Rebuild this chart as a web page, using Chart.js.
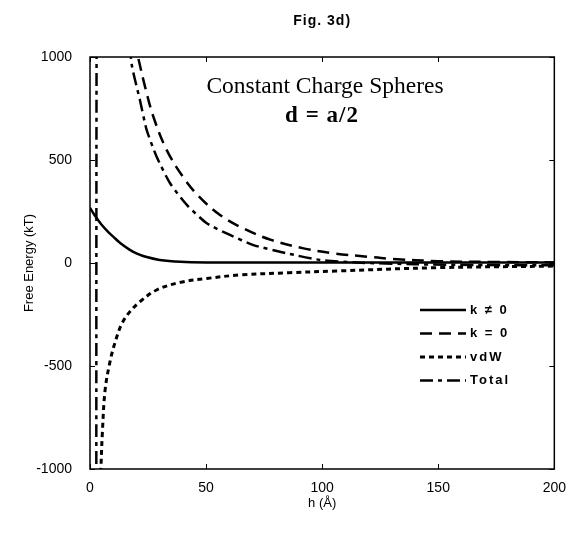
<!DOCTYPE html>
<html>
<head>
<meta charset="utf-8">
<script src="https://cdn.jsdelivr.net/npm/chart.js@4/dist/chart.umd.min.js"></script>
<style>
  html, body { margin: 0; padding: 0; background: #fff; }
  #wrap { width: 569px; height: 539px; position: relative; }
</style>
</head>
<body>
<div id="wrap"><canvas id="c" width="569" height="539"></canvas></div>
<script>
// ---- Data ----
const figTitle = "Fig. 3d)";
const noteLine1 = "Constant Charge Spheres";
const noteLine2 = "d = a/2";
const xTitle = "h (Å)";
const yTitle = "Free Energy (kT)";
const xTicks = [0, 50, 100, 150, 200];
const yTicks = [-1000, -500, 0, 500, 1000];
const seriesLabels = ["k \u2260 0", "k = 0", "vdW", "Total"];

// k != 0 (solid)
const hKscreen = [0, 2, 5, 8, 10, 13, 17, 20, 24, 30, 39, 50, 70, 100, 150, 200];
const eKscreen = [268, 232, 186, 149, 128, 97, 65, 47, 30, 15, 6, 3, 3, 3, 3, 3];

// k = 0 (dashed)
const hKzero = [19, 20.8, 23.7, 27.3, 33, 40, 47, 56, 66, 78, 92, 105, 120, 130, 150, 175, 200];
const eKzero = [1080, 994, 856, 710, 549, 419, 322, 233, 168, 112, 71, 47, 30, 20, 9, 5, 3];

// van der Waals (dotted)
const hVdw = [4.3, 4.7, 5.3, 6.5, 8.6, 10.8, 13.7, 17.2, 21.5, 28.7, 38.8, 50.3, 64.7, 86, 106, 148, 200];
const eVdw = [-1150, -1000, -830, -617, -480, -385, -295, -236, -188, -131, -94, -75, -58, -47, -39, -23, -15];

// Total (dash-dot)
const hTotal = [2.7, 2.95, 6, 12, 16.5, 18, 21.5, 24.4, 28.7, 34.5, 41.7, 50.3, 60.3, 70.4, 84.8, 99, 115, 140, 170, 200];
const eTotal = [-1500, 1500, 6000, 2500, 1150, 961, 791, 646, 516, 387, 282, 193, 136, 87, 47, 15, 2, -6, -10, -11];

const toPts = (hs, es) => hs.map((h, i) => ({ x: h, y: es[i] }));

// ---- Plugin for frame, inner ticks, title, note and legend ----
const decor = {
  id: 'decor',
  afterDatasetsDraw(chart) {
    const { ctx, chartArea: a, scales } = chart;
    const xs = scales.x, ys = scales.y;
    ctx.save();
    ctx.strokeStyle = '#000';
    ctx.lineWidth = 1.5;
    ctx.setLineDash([]);
    ctx.strokeRect(a.left, a.top, a.right - a.left, a.bottom - a.top);
    ctx.lineWidth = 1;
    const tl = 5;
    xTicks.forEach(v => {
      const px = Math.round(xs.getPixelForValue(v)) + 0.5;
      ctx.beginPath();
      ctx.moveTo(px, a.bottom); ctx.lineTo(px, a.bottom - tl);
      ctx.moveTo(px, a.top); ctx.lineTo(px, a.top + tl);
      ctx.stroke();
    });
    yTicks.forEach(v => {
      const py = Math.round(ys.getPixelForValue(v)) + 0.5;
      ctx.beginPath();
      ctx.moveTo(a.left, py); ctx.lineTo(a.left + tl, py);
      ctx.moveTo(a.right, py); ctx.lineTo(a.right - tl, py);
      ctx.stroke();
    });

    // figure title
    const cx = (a.left + a.right) / 2;
    ctx.fillStyle = '#000';
    ctx.textAlign = 'center';
    ctx.textBaseline = 'alphabetic';
    ctx.font = 'bold 14px "Liberation Sans", Arial, sans-serif';
    ctx.letterSpacing = '1px';
    ctx.fillText(figTitle, cx, 25);

    // note
    ctx.letterSpacing = '0px';
    ctx.font = '23.5px "Liberation Serif", "Times New Roman", serif';
    ctx.fillText(noteLine1, a.left + 235, a.top + 36);
    ctx.letterSpacing = '1px';
    ctx.font = 'bold 23px "Liberation Serif", "Times New Roman", serif';
    ctx.fillText(noteLine2, a.left + 232, a.top + 65);

    // legend
    ctx.textAlign = 'left';
    ctx.textBaseline = 'middle';
    ctx.font = 'bold 13px "Liberation Sans", Arial, sans-serif';
    ctx.letterSpacing = '2px';
    chart.data.datasets.forEach((ds, i) => {
      const y = a.top + 253 + i * 23.5;
      const x0 = a.left + 330, x1 = a.left + 376;
      ctx.save();
      ctx.lineWidth = ds.borderWidth;
      ctx.setLineDash(ds.borderDash || []);
      ctx.beginPath();
      ctx.moveTo(x0, y); ctx.lineTo(x1, y);
      ctx.stroke();
      ctx.restore();
      ctx.fillText(ds.label, x1 + 4, y);
    });
    ctx.restore();
  }
};

const common = { borderColor: '#000', backgroundColor: '#000', pointRadius: 0, fill: false,
  tension: 0.35, borderWidth: 2.5 };

const tickFont = { family: '"Liberation Sans", Arial, sans-serif', size: 14 };

new Chart(document.getElementById('c'), {
  type: 'line',
  data: {
    datasets: [
      Object.assign({ label: seriesLabels[0], data: toPts(hKscreen, eKscreen), borderDash: [] }, common),
      Object.assign({ label: seriesLabels[1], data: toPts(hKzero, eKzero), borderDash: [12, 7] }, common),
      Object.assign({ label: seriesLabels[2], data: toPts(hVdw, eVdw), borderDash: [5, 4] }, common, { borderWidth: 3 }),
      Object.assign({ label: seriesLabels[3], data: toPts(hTotal, eTotal), borderDash: [13, 5, 4, 5] }, common, { tension: 0.2 })
    ]
  },
  options: {
    responsive: false,
    animation: false,
    layout: { padding: { top: 57, right: 0, bottom: 0, left: 0 } },
    plugins: { legend: { display: false }, title: { display: false }, tooltip: { enabled: false } },
    scales: {
      x: {
        type: 'linear', min: 0, max: 200,
        afterBuildTicks: s => { s.ticks = xTicks.map(v => ({ value: v })); },
        afterFit: s => { s.height = 70; },
        grid: { display: false }, border: { display: false },
        ticks: { color: '#000', padding: 3, font: tickFont, callback: v => String(v) },
        title: { display: true, text: xTitle, color: '#000', padding: { top: 0, bottom: 28 },
          font: { family: '"Liberation Sans", Arial, sans-serif', size: 13 } }
      },
      y: {
        type: 'linear', min: -1000, max: 1000,
        afterBuildTicks: s => { s.ticks = yTicks.map(v => ({ value: v })); },
        afterFit: s => { s.width = 90; },
        grid: { display: false }, border: { display: false },
        ticks: { color: '#000', padding: 10, font: tickFont, callback: v => String(v) },
        title: { display: true, text: yTitle, color: '#000', padding: { top: 22, bottom: 0 },
          font: { family: '"Liberation Sans", Arial, sans-serif', size: 13 } }
      }
    }
  },
  plugins: [decor]
});
</script>
</body>
</html>
